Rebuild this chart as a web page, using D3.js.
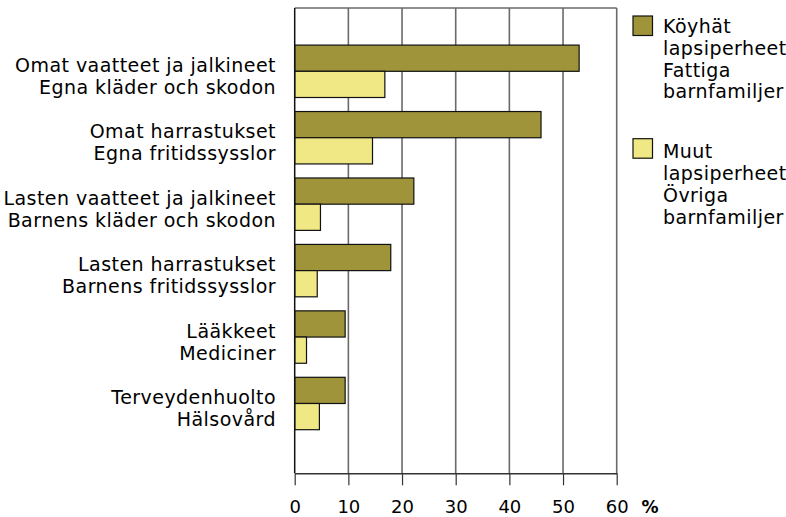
<!DOCTYPE html>
<html>
<head>
<meta charset="utf-8">
<script src="https://cdn.jsdelivr.net/npm/d3@7"></script>
<style>
  body { margin: 0; background: #fff; }
  text { font-family: "DejaVu Sans", Verdana, sans-serif; fill: #000; }
</style>
</head>
<body>
<div id="chart"></div>
<script>
// categories, two lines each (Finnish / Swedish)
const categories = [
    ["Omat vaatteet ja jalkineet", "Egna kläder och skodon"],
    ["Omat harrastukset", "Egna fritidssysslor"],
    ["Lasten vaatteet ja jalkineet", "Barnens kläder och skodon"],
    ["Lasten harrastukset", "Barnens fritidssysslor"],
    ["Lääkkeet", "Mediciner"],
    ["Terveydenhuolto", "Hälsovård"]
];

// series values (%)
const poorValues = [53.0, 45.9, 22.2, 17.9, 9.4, 9.4];
const otherValues = [16.8, 14.5, 4.8, 4.2, 2.2, 4.6];

const seriesNames = [
    ["Köyhät", "lapsiperheet", "Fattiga", "barnfamiljer"],
    ["Muut", "lapsiperheet", "Övriga", "barnfamiljer"]
];
const seriesColors = ["#a0943a", "#f0e884"];

const xTicks = [0, 10, 20, 30, 40, 50, 60];

const width = 786, height = 517;
const plot = {left: 294.7, right: 616.7, top: 8, bottom: 473.3};

const svg = d3.select("#chart").append("svg")
    .attr("width", width)
    .attr("height", height);

// scales
const x = d3.scaleLinear().domain([0, 60]).range([plot.left, plot.right]);
const yCenter = d3.scaleLinear().domain([0, categories.length - 1]).range([71.3, 403.5]);
const barH = 26.2;

// grid lines
svg.append("g").attr("id", "grid")
    .selectAll("line")
    .data(xTicks.slice(1))
    .enter()
    .append("line")
    .attr("x1", d => x(d)).attr("x2", d => x(d))
    .attr("y1", plot.top).attr("y2", plot.bottom)
    .attr("stroke", "#6a6a6a")
    .attr("stroke-width", 1.6);

// top border
svg.append("line")
    .attr("x1", plot.left).attr("x2", plot.right)
    .attr("y1", plot.top).attr("y2", plot.top)
    .attr("stroke", "#6a6a6a")
    .attr("stroke-width", 1.6);

// bars
const bars = svg.append("g").attr("id", "bars");
[poorValues, otherValues].forEach((values, s) => {
    bars.selectAll("rect.s" + s)
        .data(values)
        .enter()
        .append("rect")
        .attr("class", "s" + s)
        .attr("x", x(0))
        .attr("y", (d, i) => s === 0 ? yCenter(i) - barH : yCenter(i))
        .attr("width", d => x(d) - x(0))
        .attr("height", barH)
        .attr("fill", seriesColors[s])
        .attr("stroke", "#111")
        .attr("stroke-width", 1.2);
});

// x axis
const xAxis = svg.append("g")
    .attr("transform", "translate(0," + plot.bottom + ")")
    .call(d3.axisBottom(x).tickValues(xTicks).tickSize(12).tickPadding(15).tickSizeOuter(0));
xAxis.select(".domain").attr("stroke", "#333").attr("stroke-width", 1.5);
xAxis.selectAll(".tick line").attr("stroke", "#333").attr("stroke-width", 1.2);
xAxis.selectAll(".tick text")
    .style("font-family", "'DejaVu Sans', Verdana, sans-serif")
    .style("font-size", "18px")
    .attr("fill", "#000");

// left axis line
svg.append("line")
    .attr("x1", plot.left).attr("x2", plot.left)
    .attr("y1", plot.top).attr("y2", plot.bottom)
    .attr("stroke", "#111")
    .attr("stroke-width", 1.5);

// unit label
svg.append("text")
    .attr("x", 641.5).attr("y", 513)
    .style("font-size", "17px")
    .style("font-weight", "bold")
    .text("%");

// category labels
const labels = svg.append("g").attr("id", "labels");
categories.forEach((lines, i) => {
    const t = labels.append("text")
        .attr("text-anchor", "end")
        .style("font-size", "19px")
        .style("letter-spacing", "0.45px");
    lines.forEach((line, j) => {
        t.append("tspan")
            .attr("x", 276)
            .attr("y", yCenter(i) + 0.5 + j * 22)
            .text(line);
    });
});

// legend
const legend = svg.append("g").attr("id", "legend");
const legendTop = [16, 138.7];
const legendBaseline = [33, 158.3];
seriesNames.forEach((lines, s) => {
    legend.append("rect")
        .attr("x", 633).attr("y", legendTop[s])
        .attr("width", 19.5).attr("height", 19.5)
        .attr("fill", seriesColors[s])
        .attr("stroke", "#111")
        .attr("stroke-width", 1.2);
    const t = legend.append("text")
        .style("font-size", "19px")
        .style("letter-spacing", "0.45px");
    lines.forEach((line, j) => {
        t.append("tspan")
            .attr("x", 663)
            .attr("y", legendBaseline[s] + j * 21.8)
            .text(line);
    });
});
</script>
</body>
</html>
